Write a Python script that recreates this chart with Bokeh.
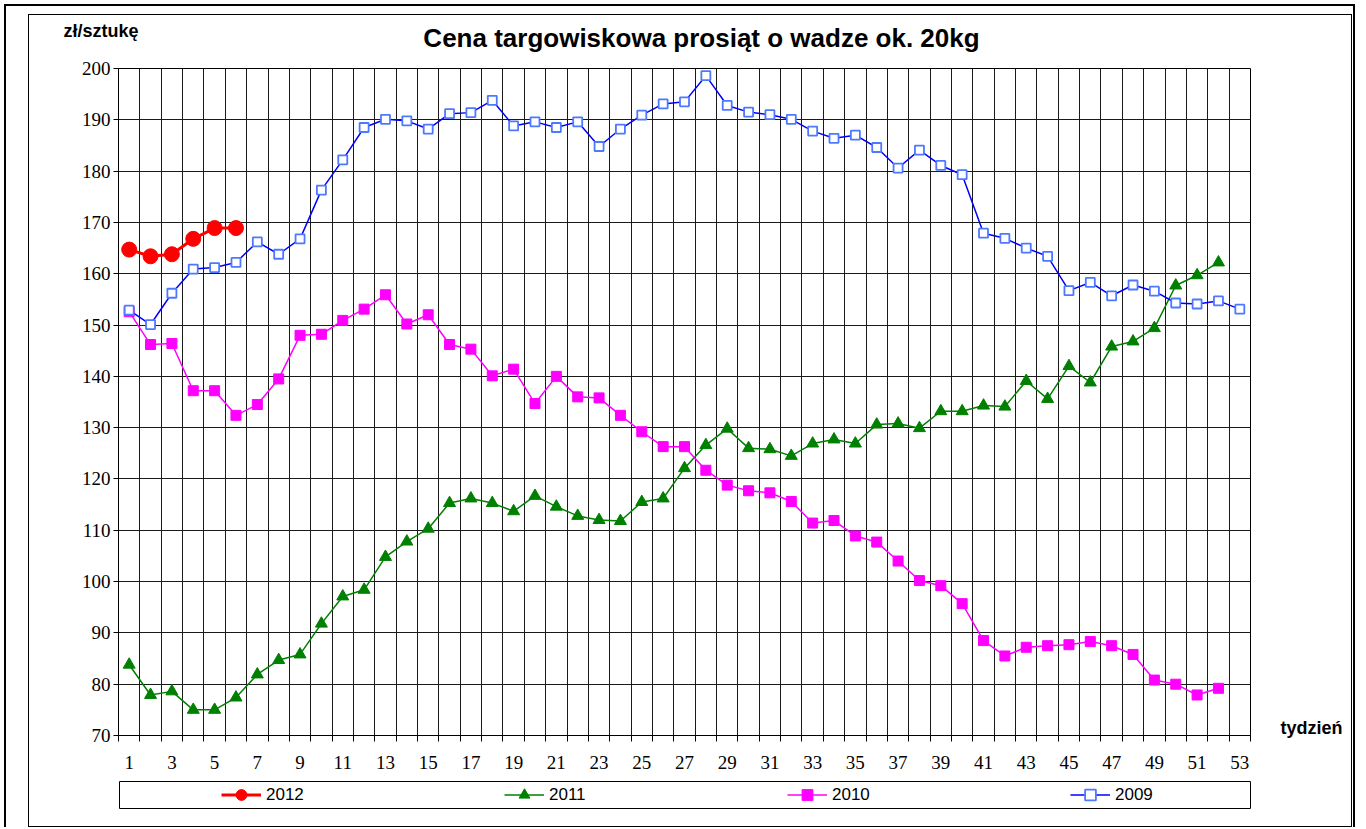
from bokeh.plotting import figure
from bokeh.layouts import column, row
from bokeh.models import FixedTicker, Legend, LegendItem, Label, ColumnDataSource
from bokeh.embed import file_html
from bokeh.resources import INLINE

# ---------------- data ----------------
weeks = list(range(1, 54))
tick_weeks = list(range(1, 54, 2))
y_ticks = list(range(70, 201, 10))

price_2012 = [164.7, 163.4, 163.8, 166.8, 168.9, 168.9]
price_2011 = [83.8, 77.9, 78.6, 75.0, 75.0, 77.4, 81.9, 84.7, 85.8, 91.8,
              97.1, 98.4, 104.8, 107.8, 110.3, 115.3, 116.2, 115.3, 113.7, 116.7,
              114.6, 112.8, 112.0, 111.8, 115.5, 116.2, 122.1, 126.6, 129.8, 126.0,
              125.8, 124.5, 126.9, 127.7, 126.9, 130.6, 130.8, 129.9, 133.2, 133.2,
              134.3, 134.1, 139.1, 135.6, 142.0, 138.8, 145.8, 146.8, 149.4, 157.7,
              159.7, 162.2]
price_2010 = [152.6, 146.2, 146.4, 137.2, 137.2, 132.4, 134.5, 139.5, 148.0, 148.2,
              150.9, 153.1, 155.9, 150.2, 152.0, 146.2, 145.3, 140.1, 141.4, 134.7,
              140.0, 136.0, 135.8, 132.4, 129.2, 126.3, 126.3, 121.7, 118.8, 117.7,
              117.3, 115.6, 111.4, 111.9, 108.9, 107.7, 104.0, 100.2, 99.2, 95.7,
              88.5, 85.5, 87.2, 87.5, 87.7, 88.3, 87.5, 85.8, 80.8, 80.0,
              77.9, 79.2]
price_2009 = [152.9, 150.1, 156.2, 160.9, 161.2, 162.2, 166.2, 163.8, 166.8, 176.3,
              182.2, 188.5, 190.1, 189.8, 188.2, 191.2, 191.4, 193.8, 188.8, 189.6,
              188.5, 189.6, 184.8, 188.2, 190.9, 193.1, 193.5, 198.6, 192.8, 191.5,
              191.0, 190.1, 187.8, 186.4, 187.0, 184.6, 180.6, 184.1, 181.1, 179.3,
              167.9, 166.9, 165.0, 163.4, 156.7, 158.3, 155.7, 157.8, 156.6, 154.3,
              154.1, 154.7, 153.1]

title_text = "Cena targowiskowa prosiąt o wadze ok. 20kg"
y_label = "zł/sztukę"
x_label = "tydzień"
series_names = ["2012", "2011", "2010", "2009"]

SANS = "Liberation Sans"
SERIF = "Liberation Serif"

STY = {
    "2012": dict(color="#FF0000", lw=3, marker="circle", size=15, fill="#FF0000", mline="#FF0000", mlw=1, lsize=11),
    "2011": dict(color="#008000", lw=1.5, marker="triangle", size=12, fill="#008000", mline="#008000", mlw=1, lsize=10),
    "2010": dict(color="#FF00FF", lw=1.5, marker="square", size=10, fill="#FF00FF", mline="#FF00FF", mlw=1, lsize=9),
    "2009": dict(color="#0000FF", lw=1.5, marker="square", size=9, fill="white", mline="#4D79FF", mlw=1.8, lsize=8),
}


def bare(fig):
    fig.background_fill_color = "white"
    fig.border_fill_color = "white"
    fig.frame_align = False
    fig.xgrid.visible = False
    fig.ygrid.visible = False
    return fig


# ---------------- header (title + unit) ----------------
HW, HH = 1322, 38
header = figure(width=HW, height=HH, output_backend="svg", toolbar_location=None,
                x_range=(0, HW), y_range=(0, HH), min_border=0,
                x_axis_location=None, y_axis_location=None)
bare(header)
header.outline_line_color = None
header.add_layout(Label(x=672, y=15.5, text=title_text, text_align="center",
                        text_baseline="middle", text_font=SANS, text_font_size="26px",
                        text_font_style="bold", text_color="black"))
header.add_layout(Label(x=34, y=22.5, text=y_label, text_align="left",
                        text_baseline="middle", text_font=SANS, text_font_size="18px",
                        text_font_style="bold", text_color="black"))

# ---------------- main chart ----------------
p = figure(width=1223, height=722, output_backend="svg", toolbar_location=None,
           x_range=(0.5, 53.5), y_range=(70, 200),
           min_border_left=89, min_border_top=15, min_border_right=2,
           min_border_bottom=40)
p.background_fill_color = "white"
p.border_fill_color = "white"
p.outline_line_color = "black"
p.outline_line_width = 1

p.xaxis.ticker = FixedTicker(ticks=tick_weeks, minor_ticks=[w - 0.5 for w in weeks] + [53.5])
p.xaxis.major_tick_out = 0
p.xaxis.major_tick_in = 0
p.xaxis.minor_tick_out = 6
p.xaxis.minor_tick_in = 0
p.xaxis.minor_tick_line_color = "black"
p.xaxis.major_label_standoff = 14
p.yaxis.ticker = FixedTicker(ticks=y_ticks)
p.yaxis.major_tick_out = 5
p.yaxis.major_tick_in = 0
p.yaxis.minor_tick_line_color = None
p.yaxis.major_label_standoff = 3
for ax in (p.xaxis, p.yaxis):
    ax.axis_line_color = "black"
    ax.major_tick_line_color = "black"
    ax.major_label_text_font = SERIF
    ax.major_label_text_font_size = "19px"
    ax.major_label_text_color = "black"

p.xgrid.ticker = FixedTicker(ticks=[w + 0.5 for w in weeks[:-1]])
p.ygrid.ticker = FixedTicker(ticks=y_ticks)
for g in (p.xgrid, p.ygrid):
    g.grid_line_color = "#1a1a1a"
    g.grid_line_width = 1
    g.grid_line_alpha = 1

series = [("2012", price_2012), ("2011", price_2011), ("2010", price_2010), ("2009", price_2009)]
for name, vals in series:
    s = STY[name]
    src = ColumnDataSource(dict(x=weeks[:len(vals)], y=vals))
    p.line("x", "y", source=src, line_color=s["color"], line_width=s["lw"])
    p.scatter("x", "y", source=src, marker=s["marker"], size=s["size"],
              fill_color=s["fill"], line_color=s["mline"], line_width=s["mlw"])

# ---------------- right strip with "tydzień" ----------------
SW, SH = 98, 722
strip = figure(width=SW, height=SH, output_backend="svg", toolbar_location=None,
               x_range=(0, SW), y_range=(0, SH), min_border=0,
               x_axis_location=None, y_axis_location=None)
bare(strip)
strip.outline_line_color = None
strip.add_layout(Label(x=28, y=48, text=x_label, text_align="left",
                       text_baseline="middle", text_font=SANS, text_font_size="18px",
                       text_font_style="bold", text_color="black"))

# ---------------- footer with legend ----------------
foot = figure(width=1322, height=51, output_backend="svg", toolbar_location=None,
              x_range=(0, 1), y_range=(0, 1),
              min_border_left=90, min_border_right=101, min_border_top=6,
              min_border_bottom=18, x_axis_location=None, y_axis_location=None)
bare(foot)
foot.outline_line_color = "black"
foot.outline_line_width = 1
nan = float("nan")
items = []
for name in series_names:
    s = STY[name]
    proxy = ColumnDataSource(dict(x=[nan], y=[nan]))
    lr = foot.line("x", "y", source=proxy, line_color=s["color"], line_width=s["lw"])
    mr = foot.scatter("x", "y", source=proxy, marker=s["marker"],
                      size=s["lsize"], fill_color=s["fill"],
                      line_color=s["mline"], line_width=s["mlw"])
    items.append(LegendItem(label=name, renderers=[lr, mr]))
leg = Legend(items=items, location=(102, 0), orientation="horizontal",
             glyph_width=40, glyph_height=27, label_width=40, label_height=27,
             label_standoff=5, padding=0, margin=0, spacing=198,
             border_line_alpha=0, background_fill_alpha=0,
             label_text_font=SANS, label_text_font_size="17px",
             label_text_color="black", label_text_baseline="middle")
foot.add_layout(leg, "center")

inner = column(header, row(p, strip, spacing=0), foot, spacing=0,
               styles={"border": "1px solid black", "background-color": "white"},
               margin=(8, 1, 0, 22))
outer = column(inner, margin=(4, 0, 0, 4),
               styles={"border-left": "2px solid black", "border-top": "2px solid black",
                       "border-right": "2px solid black"})

open("out.html", "w").write(file_html(outer, INLINE))
